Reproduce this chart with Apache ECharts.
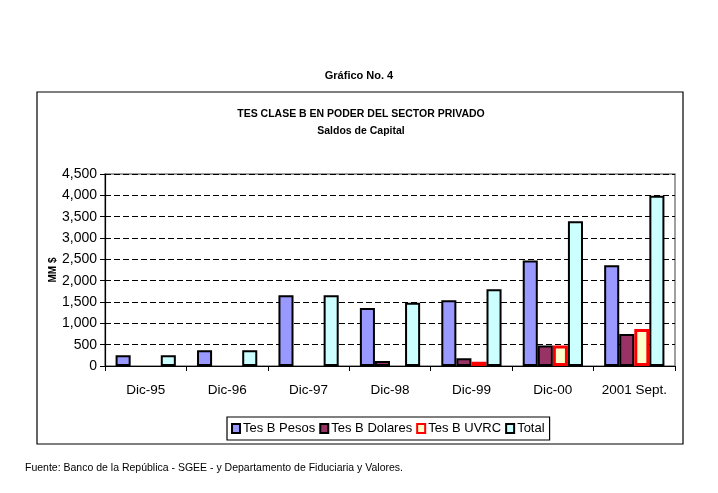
<!DOCTYPE html>
<html>
<head>
<meta charset="utf-8">
<script src="https://cdn.jsdelivr.net/npm/echarts@6/dist/echarts.min.js"></script>
<style>
html,body{margin:0;padding:0;background:#fff;}
#chart{width:718px;height:493px;}
</style>
</head>
<body>
<div id="chart"></div>
<script>
const categories = ['Dic-95','Dic-96','Dic-97','Dic-98','Dic-99','Dic-00','2001 Sept.'];
const tesPesos   = [250, 370, 1660, 1360, 1540, 2470, 2360];
const tesDolares = [null, null, null, 120, 180, 480, 750];
const tesUVRC    = [null, null, null, null, 100, 480, 870];
const total      = [250, 370, 1660, 1480, 1800, 3390, 3990];
const seriesNames = ['Tes B Pesos','Tes B Dolares','Tes B UVRC','Total'];

const FONT = 'Liberation Sans, Arial, sans-serif';
const chart = echarts.init(document.getElementById('chart'), null, {renderer:'canvas'});

function bar(name, data, fill, border, bw) {
  return {
    name: name, type: 'bar', data: data.map(v => v == null ? '-' : v),
    barGap: '0%', barCategoryGap: '26%',
    itemStyle: {color: fill, borderColor: border, borderWidth: bw},
    emphasis: {disabled: true}
  };
}

chart.setOption({
  animation: false,
  textStyle: {fontFamily: FONT},
  title: [
    {text: 'Gráfico No. 4', left: 359, top: 70, textAlign: 'center', padding: 0,
     textStyle: {fontSize: 11, fontWeight: 'bold', color: '#000', fontFamily: FONT}},
    {text: 'TES CLASE B EN PODER DEL SECTOR PRIVADO', left: 361, top: 109, textAlign: 'center', padding: 0,
     textStyle: {fontSize: 10.5, fontWeight: 'bold', color: '#000', fontFamily: FONT}},
    {text: 'Saldos de Capital', left: 361, top: 126, textAlign: 'center', padding: 0,
     textStyle: {fontSize: 10.5, fontWeight: 'bold', color: '#000', fontFamily: FONT}},
    {text: 'Fuente: Banco de la República - SGEE - y Departamento de Fiduciaria y Valores.', left: 25, top: 463, padding: 0,
     textStyle: {fontSize: 10.5, fontWeight: 'normal', color: '#000', fontFamily: FONT}}
  ],
  graphic: [
    {type: 'rect', shape: {x: 37, y: 92, width: 646, height: 352},
     style: {fill: 'none', stroke: '#000', lineWidth: 1.2}, silent: true, z: -1}
  ],
  grid: {left: 105, right: 43, top: 174, bottom: 127, show: true,
         borderColor: '#808080', borderWidth: 1.5, backgroundColor: 'transparent'},
  legend: {
    data: seriesNames, left: 227, top: 417,
    itemWidth: 8, itemHeight: 9, itemGap: 4, padding: [5, 5, 5, 4],
    borderColor: '#000', borderWidth: 1.2,
    textStyle: {fontSize: 13, color: '#000', fontFamily: FONT, padding: [0,0,0,-2]},
    icon: 'rect'
  },
  xAxis: {
    type: 'category', data: categories,
    axisLine: {lineStyle: {color: '#000', width: 1.2}},
    axisTick: {show: true, length: 5, lineStyle: {color: '#000'}},
    axisLabel: {interval: 0, fontSize: 13.5, color: '#000', margin: 17, fontFamily: FONT}
  },
  yAxis: {
    type: 'value', min: 0, max: 4500, interval: 500,
    name: 'MM $', nameLocation: 'middle', nameGap: 47, nameRotate: 90,
    nameMoveOverlap: false,
    nameTextStyle: {fontSize: 10, fontWeight: 'bold', color: '#000', fontFamily: FONT},
    axisLine: {show: true, lineStyle: {color: '#000', width: 1.2}},
    axisTick: {show: true, length: 5, lineStyle: {color: '#000'}},
    axisLabel: {fontSize: 14, color: '#000', margin: 8, fontFamily: FONT,
      formatter: v => v.toLocaleString('en-US')},
    splitLine: {show: true, lineStyle: {color: '#000', type: [6, 3], width: 1}}
  },
  series: [
    bar(seriesNames[0], tesPesos, '#9999FF', '#000', 2),
    bar(seriesNames[1], tesDolares, '#993366', '#000', 2),
    bar(seriesNames[2], tesUVRC, '#FFFFCC', '#FF0000', 3),
    bar(seriesNames[3], total, '#CCFFFF', '#000', 2)
  ]
});
</script>
</body>
</html>
